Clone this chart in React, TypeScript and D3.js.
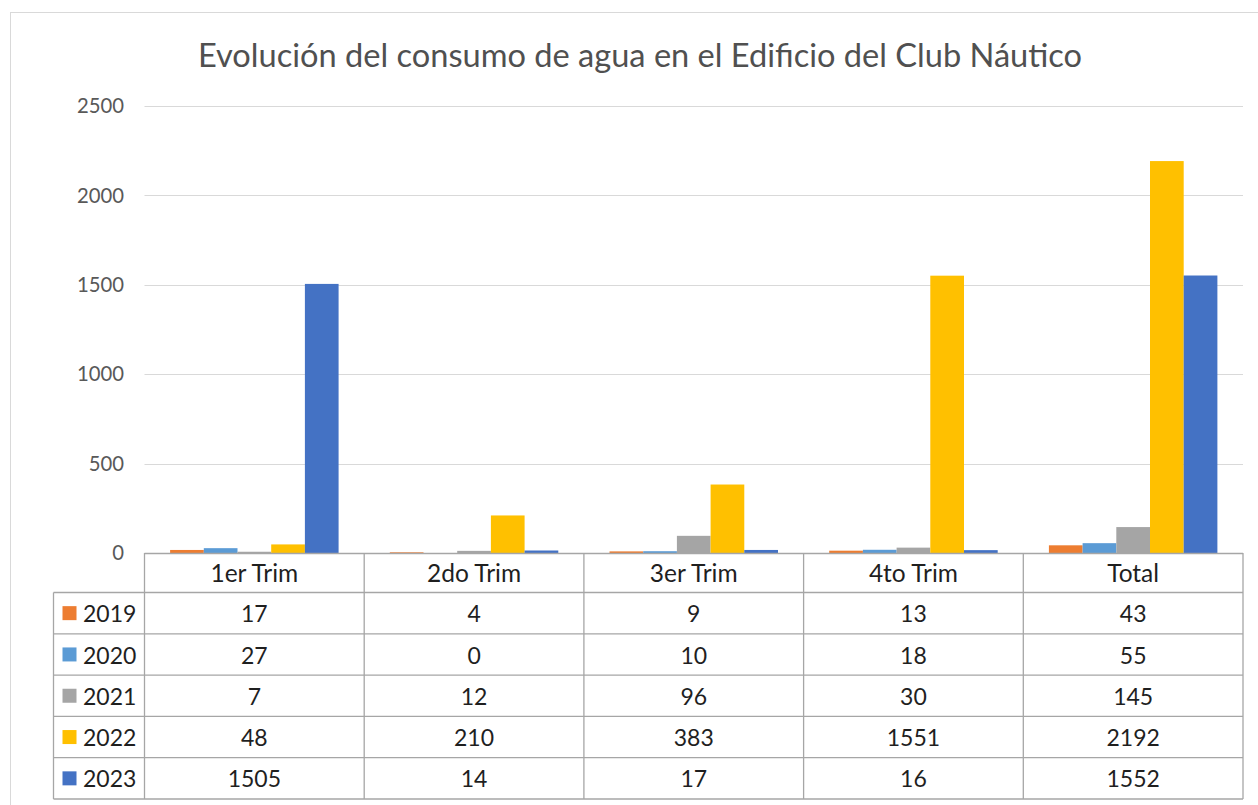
import React from "react";
import * as d3 from "d3";

const categories = ["1er Trim", "2do Trim", "3er Trim", "4to Trim", "Total"];
const seriesNames = ["2019", "2020", "2021", "2022", "2023"];
const v2019 = [17, 4, 9, 13, 43];
const v2020 = [27, 0, 10, 18, 55];
const v2021 = [7, 12, 96, 30, 145];
const v2022 = [48, 210, 383, 1551, 2192];
const v2023 = [1505, 14, 17, 16, 1552];
const seriesValues = [v2019, v2020, v2021, v2022, v2023];
const seriesColors = ["#ED7D31", "#5B9BD5", "#A5A5A5", "#FFC000", "#4472C4"];
const yTicks = [0, 500, 1000, 1500, 2000, 2500];
const title = "Evolución del consumo de agua en el Edificio del Club Náutico";

const W = 1258;
const H = 805;
const FONT = "Lato, Carlito, Calibri, sans-serif";

export default function App() {
  const plotLeft = 144.5;
  const plotRight = 1243;
  const y0 = 553;
  const yTop = 106;
  const legendLeft = 53.5;
  const headerBottom = 592.5;
  const rowH = 41.3;

  const x = d3.scaleBand<string>().domain(categories).range([plotLeft, plotRight]).paddingInner(0).paddingOuter(0);
  const xs = d3.scaleBand<string>().domain(seriesNames).range([0, x.bandwidth()]).paddingInner(0).paddingOuter(0.76);
  const y = d3.scaleLinear().domain([0, 2500]).range([y0, yTop]);

  const rowTop = (i: number) => headerBottom + i * rowH;
  const tableBottom = rowTop(seriesNames.length);
  const gridColor = "#A6A6A6";

  return (
    <svg width={W} height={H} style={{ position: "absolute", left: 0, top: 0, background: "#fff" }}>
      <rect x={0} y={0} width={W} height={H} fill="#fff" />
      {/* chart frame */}
      <rect x={10.5} y={12.5} width={1280} height={820} fill="none" stroke="#D9D9D9" strokeWidth={1} />
      <text x={640} y={67} textAnchor="middle" fontFamily={FONT} fontSize={32.6} fill="#505050">
        {title}
      </text>
      {/* gridlines */}
      {yTicks.filter((t) => t > 0).map((t) => (
        <line key={t} x1={plotLeft} x2={plotRight} y1={Math.round(y(t)) + 0.5} y2={Math.round(y(t)) + 0.5} stroke="#D9D9D9" strokeWidth={1} />
      ))}
      {yTicks.map((t) => (
        <text key={"l" + t} x={124} y={y(t)} dy="0.35em" textAnchor="end" fontFamily={FONT} fontSize={20.3} fill="#595959">
          {t}
        </text>
      ))}
      {/* bars */}
      {categories.map((c, ci) => (
        <g key={c} transform={`translate(${x(c)},0)`}>
          {seriesNames.map((s, si) => {
            const v = seriesValues[si][ci];
            return (
              <rect key={s} x={xs(s)} y={y(v)} width={xs.bandwidth()} height={y0 - y(v)} fill={seriesColors[si]} />
            );
          })}
        </g>
      ))}
      {/* data table */}
      <g fill="none" stroke={gridColor} strokeWidth={1.3}>
        <line x1={plotLeft} x2={plotRight} y1={y0 + 0.5} y2={y0 + 0.5} />
        {seriesNames.map((s, i) => (
          <line key={s} x1={legendLeft} x2={plotRight} y1={rowTop(i)} y2={rowTop(i)} />
        ))}
        <line x1={legendLeft} x2={plotRight} y1={tableBottom} y2={tableBottom} />
        <line x1={legendLeft} x2={legendLeft} y1={headerBottom} y2={tableBottom} />
        {categories.map((c) => (
          <line key={c} x1={x(c)} x2={x(c)} y1={y0} y2={tableBottom} />
        ))}
        <line x1={plotRight} x2={plotRight} y1={y0} y2={tableBottom} />
      </g>
      {categories.map((c) => (
        <text key={"h" + c} x={(x(c) as number) + x.bandwidth() / 2} y={(y0 + headerBottom) / 2 + 1} dy="0.35em" textAnchor="middle" fontFamily={FONT} fontSize={24.5} fill="#1f1f1f">
          {c}
        </text>
      ))}
      {seriesNames.map((s, si) => (
        <g key={"r" + s}>
          <rect x={62.5} y={rowTop(si) + rowH / 2 - 7} width={14} height={14} fill={seriesColors[si]} />
          <text x={83} y={rowTop(si) + rowH / 2 + 1} dy="0.35em" fontFamily={FONT} fontSize={23} fill="#1f1f1f">
            {s}
          </text>
          {categories.map((c, ci) => (
            <text key={c} x={(x(c) as number) + x.bandwidth() / 2} y={rowTop(si) + rowH / 2 + 1} dy="0.35em" textAnchor="middle" fontFamily={FONT} fontSize={23} fill="#1f1f1f">
              {seriesValues[si][ci]}
            </text>
          ))}
        </g>
      ))}
    </svg>
  );
}
